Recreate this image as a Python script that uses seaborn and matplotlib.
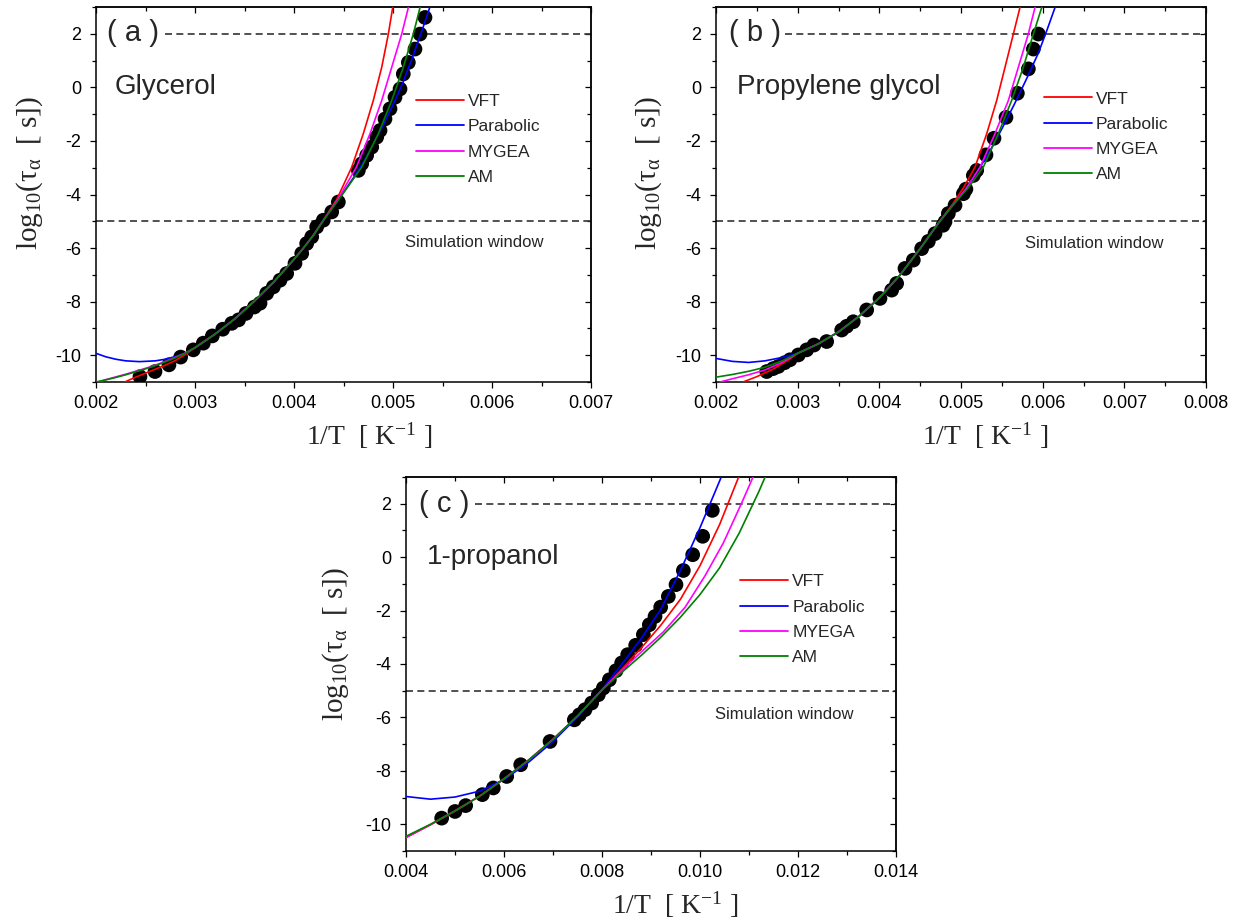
import matplotlib
matplotlib.use("Agg")
import matplotlib.pyplot as plt
import seaborn as sns
from matplotlib.ticker import MultipleLocator, FormatStrFormatter

# ---------------- data: panel (a) Glycerol ----------------
a_data_x = [0.002444, 0.002596, 0.002737, 0.002855, 0.002983, 0.003084, 0.003175, 0.003280, 0.003371,
            0.003440, 0.003515, 0.003600, 0.003657, 0.003724, 0.003791, 0.003859, 0.003926, 0.004010,
            0.004078, 0.004128, 0.004179, 0.004229, 0.004296, 0.004381, 0.004448, 0.004650, 0.004684,
            0.004734, 0.004785, 0.004835, 0.004869, 0.004919, 0.004970, 0.005020, 0.005071, 0.005104,
            0.005155, 0.005222, 0.005273, 0.005323]
a_data_y = [-10.80, -10.61, -10.36, -10.07, -9.80, -9.55, -9.28, -9.03, -8.81,
            -8.68, -8.44, -8.20, -8.06, -7.69, -7.45, -7.20, -6.95, -6.57,
            -6.20, -5.83, -5.58, -5.21, -4.96, -4.65, -4.28, -3.10, -2.85,
            -2.54, -2.23, -1.86, -1.61, -1.18, -0.80, -0.37, -0.06, 0.50,
            0.93, 1.43, 1.99, 2.61]
a_vft_x = [0.00229, 0.0024, 0.0025, 0.0026, 0.0027, 0.0028, 0.0029, 0.0030, 0.0032, 0.0034, 0.0036, 0.0038,
           0.0040, 0.0041, 0.0042, 0.00429, 0.00443, 0.004583, 0.0047, 0.004801, 0.004886, 0.004953, 0.004997, 0.00502]
a_vft_y = [-11.0, -10.82, -10.67, -10.52, -10.37, -10.2, -9.98, -9.72, -9.22, -8.65, -7.98, -7.25,
           -6.42, -5.98, -5.5, -5.0, -4.2, -2.98, -1.73, -0.49, 0.75, 1.99, 2.98, 3.5]
a_par_x = [0.0020, 0.0021, 0.0022, 0.0023, 0.00244, 0.0026, 0.0027, 0.0028, 0.0029, 0.0030, 0.0032, 0.0034,
           0.0036, 0.0038, 0.0040, 0.0041, 0.0042, 0.00429, 0.0044, 0.0045, 0.0046, 0.0047, 0.0048, 0.0049,
           0.0050, 0.0051, 0.0052, 0.0053, 0.0054]
a_par_y = [-9.93, -10.06, -10.15, -10.21, -10.24, -10.21, -10.15, -10.05, -9.93, -9.72, -9.22, -8.65,
           -7.98, -7.25, -6.42, -5.98, -5.5, -5.0, -4.45, -3.92, -3.38, -2.8, -2.13, -1.42,
           -0.65, 0.18, 1.15, 2.2, 3.3]
a_mye_x = [0.00202, 0.0021, 0.0022, 0.0023, 0.0024, 0.0025, 0.0026, 0.0027, 0.0028, 0.0029, 0.0030, 0.0032,
           0.0034, 0.0036, 0.0038, 0.0040, 0.0041, 0.0042, 0.00429, 0.00444, 0.00463, 0.004768, 0.004886,
           0.004987, 0.005088, 0.005155, 0.00518]
a_mye_y = [-11.0, -10.91, -10.81, -10.71, -10.6, -10.49, -10.37, -10.23, -10.08, -9.92, -9.72, -9.22,
           -8.65, -7.98, -7.25, -6.42, -5.98, -5.5, -5.0, -4.2, -2.98, -1.73, -0.49,
           0.75, 1.99, 2.98, 3.4]
a_am_x = [0.0020, 0.0021, 0.0022, 0.0023, 0.0024, 0.0025, 0.0026, 0.0027, 0.0028, 0.0029, 0.0030, 0.0032,
          0.0034, 0.0036, 0.0038, 0.0040, 0.0041, 0.0042, 0.00429, 0.00445, 0.004684, 0.004852, 0.004987,
          0.005104, 0.005205, 0.005273, 0.0053]
a_am_y = [-11.0, -10.92, -10.83, -10.73, -10.62, -10.51, -10.39, -10.25, -10.1, -9.93, -9.72, -9.22,
          -8.65, -7.98, -7.25, -6.42, -5.98, -5.5, -5.0, -4.2, -2.98, -1.73, -0.49,
          0.75, 1.99, 2.98, 3.4]

# ---------------- data: panel (b) Propylene glycol ----------------
b_data_x = [0.002621, 0.002700, 0.002763, 0.002840, 0.002906, 0.003008, 0.003110, 0.003200, 0.003355,
            0.003539, 0.003600, 0.003681, 0.003845, 0.004008, 0.004151, 0.004212, 0.004314, 0.004416,
            0.004518, 0.004600, 0.004682, 0.004780, 0.004804, 0.004845, 0.004927, 0.005029, 0.005060,
            0.005151, 0.005192, 0.005306, 0.005404, 0.005551, 0.005690, 0.005825, 0.005886, 0.005947]
b_data_y = [-10.61, -10.50, -10.42, -10.28, -10.17, -9.99, -9.80, -9.62, -9.49,
            -9.06, -8.92, -8.75, -8.31, -7.88, -7.57, -7.32, -6.76, -6.45,
            -6.02, -5.75, -5.46, -5.15, -5.02, -4.71, -4.40, -3.97, -3.80,
            -3.29, -3.10, -2.52, -1.90, -1.12, -0.22, 0.69, 1.43, 1.99]
b_vft_x = [0.00233, 0.0025, 0.0027, 0.0029, 0.0030, 0.00325, 0.0035, 0.00375, 0.0040, 0.00425, 0.0045,
           0.00474, 0.0049, 0.00503, 0.005171, 0.005315, 0.005437, 0.005539, 0.005641, 0.005722, 0.00575]
b_vft_y = [-11.0, -10.8, -10.52, -10.15, -9.93, -9.58, -9.13, -8.55, -7.86, -7.02, -6.02,
           -5.0, -4.35, -3.75, -2.98, -1.73, -0.49, 0.75, 1.99, 2.98, 3.4]
b_par_x = [0.0020, 0.0022, 0.0024, 0.0026, 0.0028, 0.0030, 0.00325, 0.0035, 0.00375, 0.0040, 0.00425,
           0.0045, 0.00474, 0.0049, 0.00505, 0.0052, 0.00535, 0.0055, 0.00565, 0.0058, 0.00595, 0.00606,
           0.006151, 0.00618]
b_par_y = [-10.12, -10.23, -10.27, -10.21, -10.09, -9.93, -9.58, -9.13, -8.55, -7.86, -7.02,
           -6.02, -5.0, -4.4, -3.85, -3.15, -2.4, -1.55, -0.65, 0.3, 1.3, 2.2,
           2.98, 3.3]
b_mye_x = [0.00205, 0.0022, 0.0024, 0.0026, 0.0028, 0.0030, 0.00325, 0.0035, 0.00375, 0.0040, 0.00425,
           0.0045, 0.00474, 0.0049, 0.00507, 0.005233, 0.005416, 0.00558, 0.005702, 0.005824, 0.005906, 0.00594]
b_mye_y = [-11.0, -10.88, -10.73, -10.55, -10.28, -9.93, -9.58, -9.13, -8.55, -7.86, -7.02,
           -6.02, -5.0, -4.4, -3.75, -2.98, -1.73, -0.49, 0.75, 1.99, 2.98, 3.4]
b_am_x = [0.0020, 0.0022, 0.0024, 0.0026, 0.0028, 0.0030, 0.00325, 0.0035, 0.00375, 0.0040, 0.00425,
          0.0045, 0.00474, 0.0049, 0.00509, 0.005273, 0.005457, 0.00562, 0.005763, 0.005886, 0.005988, 0.00602]
b_am_y = [-10.82, -10.72, -10.6, -10.45, -10.22, -9.93, -9.58, -9.13, -8.55, -7.86, -7.02,
          -6.02, -5.0, -4.4, -3.75, -2.98, -1.73, -0.49, 0.75, 1.99, 2.98, 3.4]

# ---------------- data: panel (c) 1-propanol ----------------
c_data_x = [0.004728, 0.005000, 0.005218, 0.005558, 0.005782, 0.006055, 0.006341, 0.006939, 0.007435,
            0.007540, 0.007653, 0.007789, 0.007925, 0.008027, 0.008150, 0.008286, 0.008401, 0.008524,
            0.008687, 0.008844, 0.008966, 0.009082, 0.009198, 0.009354, 0.009510, 0.009660, 0.009851,
            0.010055, 0.010251]
c_data_y = [-9.77, -9.52, -9.30, -8.89, -8.64, -8.21, -7.77, -6.90, -6.09,
            -5.90, -5.71, -5.46, -5.15, -4.90, -4.59, -4.25, -3.96, -3.65,
            -3.30, -2.90, -2.53, -2.22, -1.87, -1.47, -1.03, -0.50, 0.09,
            0.78, 1.75]
c_vft_x = [0.0040, 0.0045, 0.0050, 0.0055, 0.0060, 0.0065, 0.0070, 0.0075, 0.0080, 0.0084, 0.0088,
           0.0092, 0.0096, 0.0100, 0.0104, 0.0108, 0.01085]
c_vft_y = [-10.5, -10.02, -9.5, -8.95, -8.3, -7.6, -6.82, -5.95, -4.97, -4.2, -3.4,
           -2.55, -1.58, -0.32, 1.22, 3.05, 3.35]
c_par_x = [0.0040, 0.0045, 0.0050, 0.0055, 0.0060, 0.0065, 0.0070, 0.0075, 0.0080, 0.0084, 0.0088,
           0.0092, 0.0096, 0.0100, 0.0104, 0.0105]
c_par_y = [-8.96, -9.06, -8.98, -8.76, -8.33, -7.68, -6.9, -5.98, -4.95, -4.02, -3.05,
           -1.95, -0.5, 1.1, 2.85, 3.3]
c_mye_x = [0.0040, 0.0045, 0.0050, 0.0055, 0.0060, 0.0065, 0.0070, 0.0075, 0.0080, 0.0084, 0.0088,
           0.009251, 0.009694, 0.010102, 0.010476, 0.010851, 0.011088, 0.01115]
c_mye_y = [-10.49, -10.01, -9.5, -8.95, -8.3, -7.6, -6.82, -5.95, -4.97, -4.25, -3.55,
           -2.8, -1.88, -0.7, 0.53, 2.03, 3.02, 3.35]
c_am_x = [0.0040, 0.0045, 0.0050, 0.0055, 0.0060, 0.0065, 0.0070, 0.0075, 0.0080, 0.0084, 0.0088,
          0.0092, 0.0096, 0.0100, 0.0104, 0.0108, 0.0112, 0.0114]
c_am_y = [-10.45, -10.0, -9.5, -8.95, -8.3, -7.6, -6.82, -5.95, -4.97, -4.32, -3.68,
          -3.0, -2.25, -1.4, -0.4, 0.9, 2.45, 3.3]

labels_ab = ["VFT", "Parabolic", "MYGEA", "AM"]
labels_c = ["VFT", "Parabolic", "MYEGA", "AM"]
colors = ["#ff0000", "#0000ff", "#ff00ff", "#008000"]

# ---------------- style ----------------
sns.set_theme(style="white")
plt.rcParams["font.family"] = ["Liberation Sans", "DejaVu Sans"]
plt.rcParams["axes.unicode_minus"] = False
plt.rcParams["mathtext.fontset"] = "custom"
plt.rcParams["mathtext.rm"] = "Liberation Serif"
plt.rcParams["mathtext.it"] = "Liberation Serif:italic"
plt.rcParams["mathtext.default"] = "rm"

fig = plt.figure(figsize=(12.4, 9.24), dpi=100)
fig.patch.set_facecolor("white")

W, H = 1240.0, 924.0
def add_axes(l, r, t, b):
    return fig.add_axes([l / W, (H - b) / H, (r - l) / W, (b - t) / H])

ax_a = add_axes(96, 591, 7, 382)
ax_b = add_axes(716, 1206, 7, 382)
ax_c = add_axes(406, 896, 477, 851)

XLABEL = "1/T  [ K$^{\\mathrm{-1}}$ ]"
YLABEL = "$\\mathrm{log}_{10}(\\tau_{\\alpha}\\ \\ [\\ \\mathrm{s}])$"
DASH = (0, (4.2, 2.6))


def style_axis(ax, xlim, xmaj, xmin_):
    ax.set_xlim(*xlim)
    ax.set_ylim(-11, 3)
    ax.xaxis.set_major_locator(MultipleLocator(xmaj))
    ax.xaxis.set_minor_locator(MultipleLocator(xmin_))
    ax.yaxis.set_major_locator(MultipleLocator(2))
    ax.yaxis.set_minor_locator(MultipleLocator(1))
    ax.xaxis.set_major_formatter(FormatStrFormatter("%.3f"))
    ax.yaxis.set_major_formatter(FormatStrFormatter("%d"))
    for s in ax.spines.values():
        s.set_visible(True)
        s.set_color("black")
        s.set_linewidth(1.1)
    ax.tick_params(which="both", direction="out", top=False, right=False,
                   bottom=True, left=True, colors="black", width=0.9)
    ax.tick_params(which="major", length=4.5, labelsize=13, pad=5)
    ax.tick_params(which="minor", length=3)
    ax.tick_params(axis="y", which="major", pad=6)
    top = ax.secondary_xaxis("top")
    top.xaxis.set_major_locator(MultipleLocator(xmaj))
    top.xaxis.set_minor_locator(MultipleLocator(xmin_))
    top.tick_params(which="both", direction="in", labeltop=False, width=0.9, colors="black")
    top.tick_params(which="major", length=4.5)
    top.tick_params(which="minor", length=3)
    top.spines["top"].set_linewidth(1.1)
    right = ax.secondary_yaxis("right")
    right.yaxis.set_major_locator(MultipleLocator(2))
    right.yaxis.set_minor_locator(MultipleLocator(1))
    right.tick_params(which="both", direction="in", labelright=False, width=0.9, colors="black")
    right.tick_params(which="major", length=4.5)
    right.tick_params(which="minor", length=3)
    right.spines["right"].set_linewidth(1.1)


def draw_panel(ax, dx, dy, curves, labels, xlim, xmaj, xmin_, letter, name,
               leg_anchor, sim_pos, xlabel_x, ylabel_x, ylabel_y):
    sns.scatterplot(x=dx, y=dy, ax=ax, color="black", s=112, edgecolor="none",
                    linewidth=0, legend=False, zorder=2)
    for (cx, cy), col, lab in zip(curves, colors, labels):
        sns.lineplot(x=cx, y=cy, ax=ax, color=col, linewidth=1.2, label=lab,
                     sort=False, estimator=None, zorder=3)
    ax.axhline(2, xmin=0.14, xmax=1, color="#333333", linestyle=DASH, linewidth=1.2, zorder=1)
    ax.axhline(-5, xmin=0, xmax=1, color="#333333", linestyle=DASH, linewidth=1.2, zorder=1)
    style_axis(ax, xlim, xmaj, xmin_)
    ax.text(letter[1], letter[2], letter[0], transform=ax.transAxes, fontsize=21,
            ha="left", va="center")
    ax.text(name[1], name[2], name[0], transform=ax.transAxes, fontsize=20,
            ha="left", va="center")
    ax.text(sim_pos[0], sim_pos[1], "Simulation window", transform=ax.transAxes,
            fontsize=12, ha="left", va="center")
    leg = ax.legend(loc="upper left", bbox_to_anchor=leg_anchor,
                    frameon=False, fontsize=12.5, handlelength=2.75, handletextpad=0.25,
                    labelspacing=0.58, borderpad=0, borderaxespad=0)
    for line in leg.get_lines():
        line.set_linewidth(1.3)
    ax.set_xlabel(XLABEL, fontsize=20, family="Liberation Serif")
    ax.set_ylabel(YLABEL, fontsize=21, family="Liberation Serif")
    ax.xaxis.set_label_coords(xlabel_x, -0.103)
    ax.yaxis.set_label_coords(ylabel_x, ylabel_y)


draw_panel(ax_a, a_data_x, a_data_y,
           [(a_vft_x, a_vft_y), (a_par_x, a_par_y), (a_mye_x, a_mye_y), (a_am_x, a_am_y)],
           labels_ab, (0.002, 0.007), 0.001, 0.0005,
           ("( a )", 0.022, 0.931), ("Glycerol", 0.038, 0.787),
           (0.646, 0.768), (0.624, 0.371), 0.5515, -0.103, 0.557)
draw_panel(ax_b, b_data_x, b_data_y,
           [(b_vft_x, b_vft_y), (b_par_x, b_par_y), (b_mye_x, b_mye_y), (b_am_x, b_am_y)],
           labels_ab, (0.002, 0.008), 0.001, 0.0005,
           ("( b )", 0.027, 0.931), ("Propylene glycol", 0.043, 0.787),
           (0.669, 0.775), (0.631, 0.368), 0.549, -0.106, 0.557)
draw_panel(ax_c, c_data_x, c_data_y,
           [(c_vft_x, c_vft_y), (c_par_x, c_par_y), (c_mye_x, c_mye_y), (c_am_x, c_am_y)],
           labels_c, (0.004, 0.014), 0.002, 0.001,
           ("( c )", 0.027, 0.928), ("1-propanol", 0.043, 0.786),
           (0.682, 0.740), (0.631, 0.364), 0.549, -0.112, 0.553)

fig.savefig("out.png", dpi=100, facecolor="white")
